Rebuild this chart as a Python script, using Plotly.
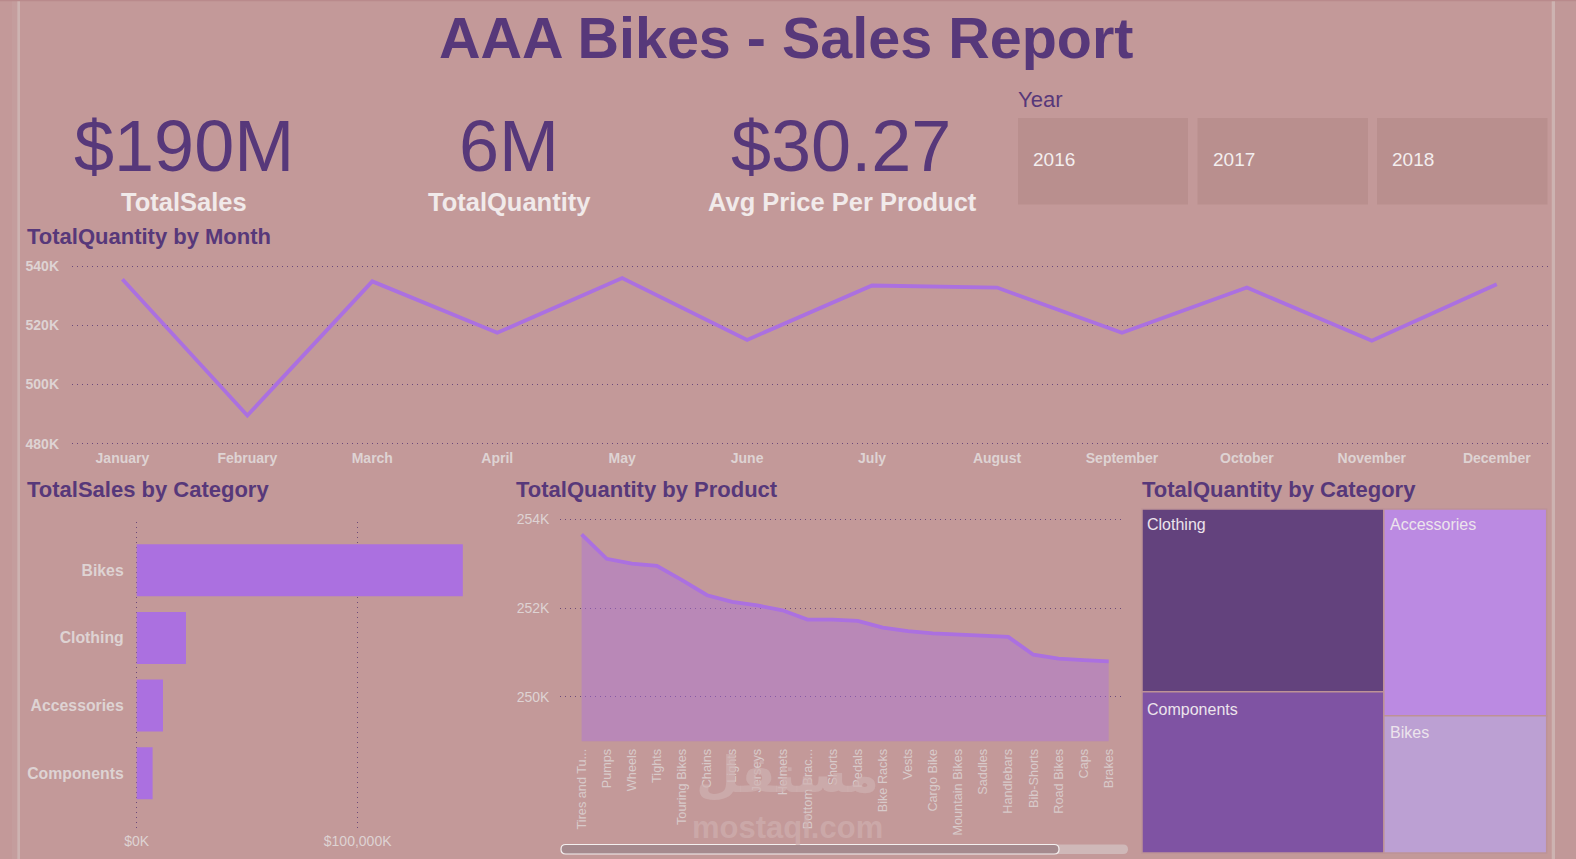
import plotly.graph_objects as go
from plotly.subplots import make_subplots

W, H = 1576, 859

months = ['January', 'February', 'March', 'April', 'May', 'June', 'July',
          'August', 'September', 'October', 'November', 'December']
month_qty = [535600, 489500, 534900, 517500, 536000, 515100, 533500, 532800,
             517500, 532800, 514800, 533900]

sales_categories = ['Bikes', 'Clothing', 'Accessories', 'Components']
sales_values = [147600000, 22300000, 11900000, 7200000]

products = ['Tires and Tu...', 'Pumps', 'Wheels', 'Tights', 'Touring Bikes', 'Chains',
            'Lights', 'Jerseys', 'Helmets', 'Bottom Brac...', 'Shorts', 'Pedals',
            'Bike Racks', 'Vests', 'Cargo Bike', 'Mountain Bikes', 'Saddles',
            'Handlebars', 'Bib-Shorts', 'Road Bikes', 'Caps', 'Brakes']
product_qty = [253660, 253110, 253000, 252950, 252630, 252290, 252140, 252060, 251950,
               251740, 251740, 251710, 251560, 251480, 251430, 251410, 251380, 251350,
               250950, 250860, 250830, 250800]

tree_labels = ['Clothing', 'Components', 'Accessories', 'Bikes']
tree_values = [1998000, 1761000, 1522000, 1010000]
tree_colors = ['#63427d', '#7f53a3', '#bb8ae2', '#bca0d3']

kpi_values = ['$190M', '6M', '$30.27']
kpi_labels = ['TotalSales', 'TotalQuantity', 'Avg Price Per Product']
years = ['2016', '2017', '2018']

BG = '#c39999'
PURPLE = '#57387a'
LINE = '#ab70e0'
LIGHT = '#ded3d3'
GRID = '#6d4a7a'
FONT = 'Liberation Sans'


def fx(px):
    return px / W


def fy(py):
    return 1 - py / H


def label(x, y, text, size, color, bold=False, anchor='left'):
    """Texte place en pixels de la page"""
    if anchor == 'left':
        x -= 1
    fig.add_annotation(x=fx(x), y=fy(y), xref='paper', yref='paper', text=f'<b>{text}</b>' if bold else text,
                       showarrow=False, xanchor=anchor, yanchor='middle', borderpad=0,
                       font=dict(family=FONT, size=size, color=color))


def rect(x0, y0, x1, y1, color, layer='below'):
    fig.add_shape(type='rect', xref='paper', yref='paper', x0=fx(x0), x1=fx(x1), y0=fy(y0), y1=fy(y1),
                  fillcolor=color, line_width=0, layer=layer)


def pill(x0, y0, x1, y1, color, border=None):
    """Rectangle arrondi pour la barre de defilement"""
    r = (y1 - y0) / 2
    pts = [(x0 + r, y0), (x1 - r, y0), (x1, y0), (x1, y0 + r), (x1, y1), (x1 - r, y1),
           (x0 + r, y1), (x0, y1), (x0, y0 + r), (x0, y0), (x0 + r, y0)]
    p = [(fx(a), fy(b)) for a, b in pts]
    path = (f'M {p[0][0]} {p[0][1]} L {p[1][0]} {p[1][1]} Q {p[2][0]} {p[2][1]} {p[3][0]} {p[3][1]} '
            f'Q {p[4][0]} {p[4][1]} {p[5][0]} {p[5][1]} L {p[6][0]} {p[6][1]} '
            f'Q {p[7][0]} {p[7][1]} {p[8][0]} {p[8][1]} Q {p[9][0]} {p[9][1]} {p[10][0]} {p[10][1]} Z')
    fig.add_shape(type='path', xref='paper', yref='paper', path=path, fillcolor=color,
                  line=dict(color=border or color, width=1.2 if border else 0))


fig = make_subplots(rows=1, cols=1)

# Graphique 1: quantite par mois
fig.add_trace(go.Scatter(x=list(range(12)), y=month_qty, mode='lines', xaxis='x', yaxis='y',
                         line=dict(color=LINE, width=3.8), showlegend=False))
# Graphique 2: ventes par categorie
fig.add_trace(go.Bar(x=sales_values, y=sales_categories, orientation='h', xaxis='x2', yaxis='y2',
                     marker=dict(color='#ab70e0', line_width=0), width=0.77, showlegend=False))
# Graphique 3: quantite par produit
fig.add_trace(go.Scatter(x=list(range(22)), y=product_qty, mode='lines', fill='tozeroy', xaxis='x3', yaxis='y3',
                         fillcolor='rgba(171,112,224,0.42)', line=dict(color=LINE, width=3.8), showlegend=False))
# Graphique 4: treemap
fig.add_trace(go.Treemap(labels=tree_labels, parents=[''] * 4, values=tree_values, sort=True,
                         domain=dict(x=[fx(1142), fx(1546.7)], y=[fy(853), fy(509)]),
                         marker=dict(colors=tree_colors, line=dict(color='#bd9296', width=1.5),
                                     pad=dict(t=0, l=0, r=0, b=0)),
                         textinfo='none', tiling=dict(packing='squarify', pad=0),
                         pathbar=dict(visible=False), root=dict(color=BG)))

axis_grid = dict(showgrid=True, gridcolor=GRID, griddash='1px,4px', gridwidth=1, zeroline=False,
                 showline=False, ticks='', automargin=False)

# les plages depassent de 2 px pour que plotly garde les lignes de grille aux extremites
fig.update_layout(
    width=W, height=H, margin=dict(l=0, r=0, t=0, b=0, pad=0), autosize=False,
    paper_bgcolor=BG, plot_bgcolor='rgba(0,0,0,0)', showlegend=False,
    font=dict(family=FONT),
    xaxis=dict(domain=[fx(72), fx(1548)], range=[-0.4035, 11.41], tickmode='array',
               tickvals=list(range(12)), ticktext=months, showgrid=False, zeroline=False, ticks='',
               automargin=False, ticklabelstandoff=2,
               tickfont=dict(size=14, color=LIGHT, weight='bold'), anchor='y'),
    yaxis=dict(domain=[fy(445.6), fy(264.3)], range=[479323, 540677], tickmode='array',
               tickvals=[480000, 500000, 520000, 540000], ticktext=['480K', '500K', '520K', '540K'],
               ticklabelstandoff=12, tickfont=dict(size=14, color=LIGHT, weight='bold'), anchor='x', **axis_grid),
    xaxis2=dict(domain=[fx(134.7), fx(490)], range=[-905000, 159900000], tickmode='array',
                tickvals=[0, 100000000], ticktext=['$0K', '$100,000K'], ticklabelstandoff=3,
                tickfont=dict(size=14, color=LIGHT), anchor='y2', **axis_grid),
    yaxis2=dict(domain=[fy(828), fy(522)], range=[3.81, -0.714], type='category',
                categoryorder='array', categoryarray=sales_categories, showgrid=False, zeroline=False,
                ticks='', ticklabelstandoff=10, automargin=False,
                tickfont=dict(size=15.8, color=LIGHT, weight='bold'), anchor='x2'),
    xaxis3=dict(domain=[fx(560.4), fx(1125)], range=[-0.845, 21.65], tickmode='array',
                tickvals=list(range(22)), ticktext=products, tickangle=-90, showgrid=False,
                zeroline=False, ticks='', automargin=False, ticklabelstandoff=4,
                tickfont=dict(size=12.7, color='#d8caca'), anchor='y3'),
    yaxis3=dict(domain=[fy(741.3), fy(517.3)], range=[249000, 254045], tickmode='array',
                tickvals=[250000, 252000, 254000], ticktext=['250K', '252K', '254K'], ticklabelstandoff=10,
                tickfont=dict(size=14, color=LIGHT), anchor='x3', **axis_grid),
)

# bandes laterales et bord haut
rect(12, 0, 17.3, H, '#c49d9d')
rect(17.3, 0, 20, H, '#cdb3b1')
rect(1551.7, 0, 1555, H, '#cdb3b1')
rect(1555, 0, W, H, '#c19898')
rect(0, 0, W, 1.2, '#b98a8c')

# titre et indicateurs
label(786, 38, 'AAA Bikes - Sales Report', 57.5, PURPLE, bold=True, anchor='center')
for x, val, lab in zip([183.5, 509, 841.5], kpi_values, kpi_labels):
    label(x, 146, val, 72, PURPLE, anchor='center')
    label(x + 0.5, 202, lab, 25.5, '#f1eaea', bold=True, anchor='center')

# segments Year
label(1018, 99.5, 'Year', 22, PURPLE)
for x0, x1, year in zip([1018, 1197.5, 1377], [1188, 1368, 1547.5], years):
    rect(x0, 118, x1, 204.5, '#b98f8e')
    label(x0 + 15, 160, year, 19, '#f3eeee')

# titres des graphiques
label(27.3, 236, 'TotalQuantity by Month', 22, PURPLE, bold=True)
label(27.3, 489.5, 'TotalSales by Category', 22, PURPLE, bold=True)
label(516, 489.5, 'TotalQuantity by Product', 22, PURPLE, bold=True)
label(1142, 489.5, 'TotalQuantity by Category', 22, PURPLE, bold=True)

# libelles du treemap
for name, x, y in zip(tree_labels, [1147, 1147, 1390, 1390], [524.5, 709.5, 524.5, 732.5]):
    label(x, y, name, 16, '#ece4ec')

# barre de defilement
pill(561, 844.5, 1128, 854, '#cfb8b8')
pill(561, 844.5, 1059, 854, '#a58a8e', border='#f4f0f0')

# filigrane
fig.add_annotation(x=fx(787), y=fy(775), xref='paper', yref='paper', text='<b>مستقل</b>', showarrow=False,
                   xanchor='center', yanchor='middle',
                   font=dict(family='DejaVu Sans', size=50, color='rgba(207,176,176,0.7)'))
fig.add_annotation(x=fx(787), y=fy(827), xref='paper', yref='paper', text='<b>mostaql.com</b>', showarrow=False,
                   xanchor='center', yanchor='middle',
                   font=dict(family=FONT, size=31, color='rgba(207,176,176,0.7)'))

fig.write_html("out.html", config={'displayModeBar': False},
               post_script="document.body.style.margin='0';document.body.style.background='#c39999';")
